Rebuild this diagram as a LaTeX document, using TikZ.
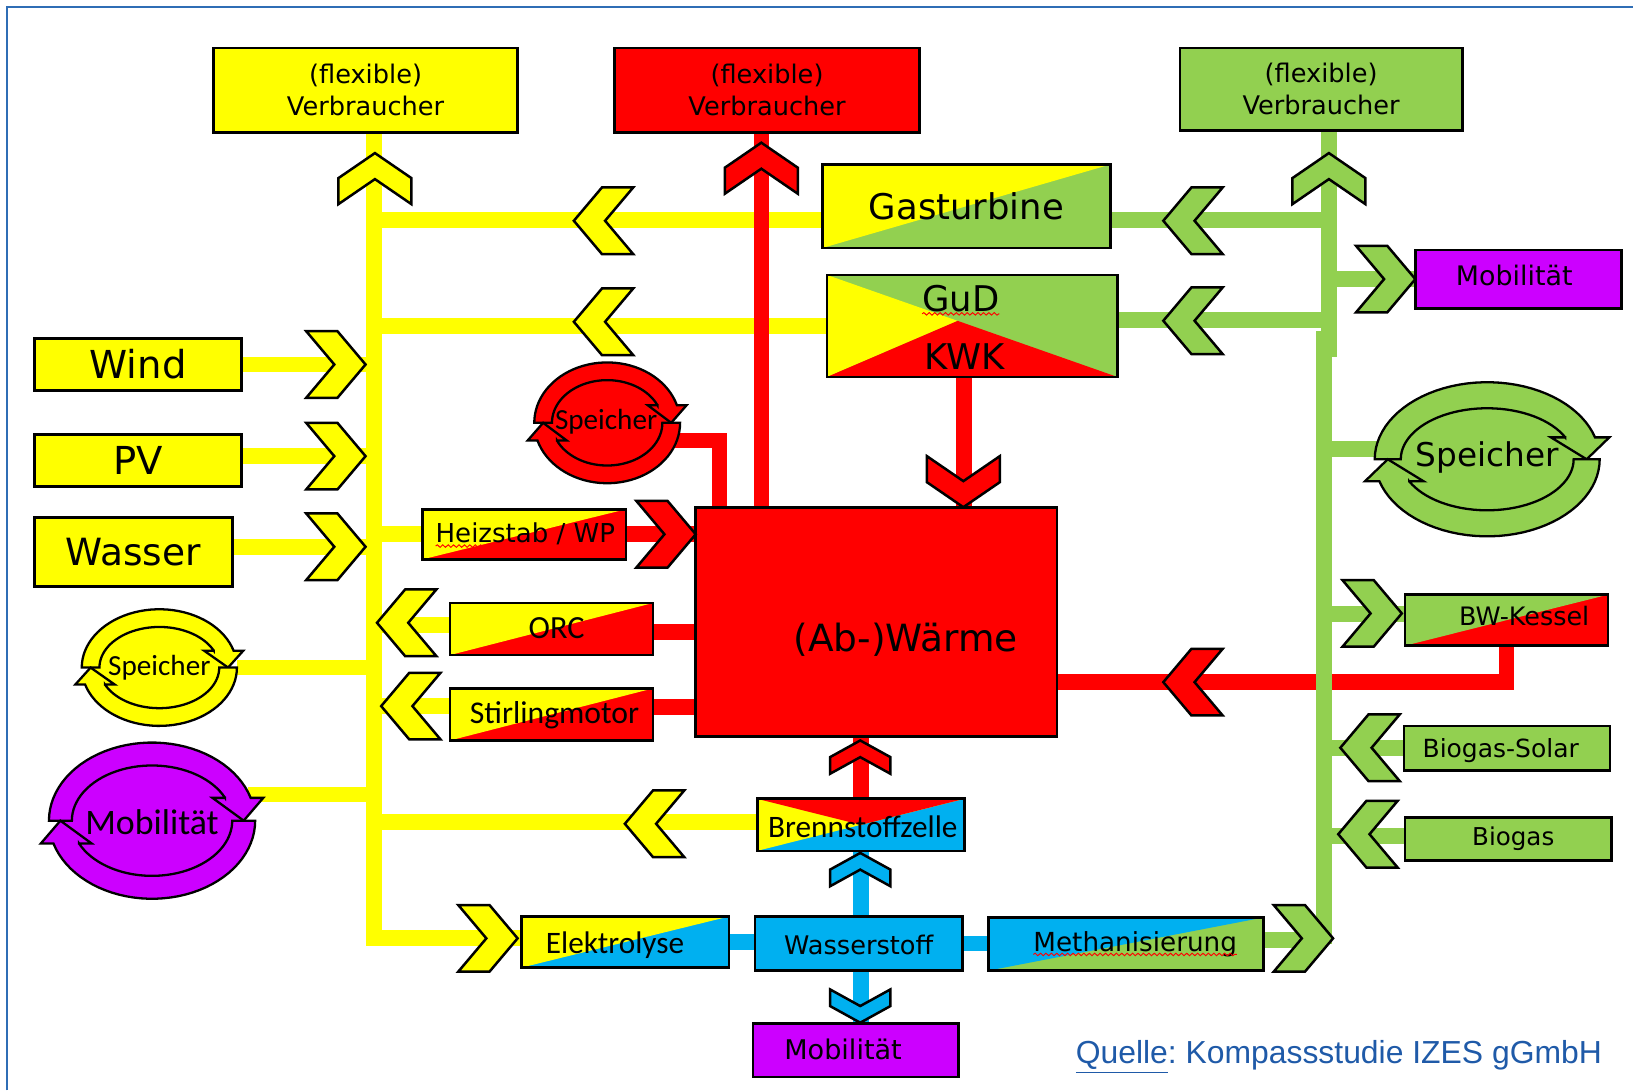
\documentclass[tikz,border=0pt]{standalone}
\usepackage{fontspec}
\setmainfont{DejaVu Sans}
\newfontfamily\calfont{Carlito}
\newfontfamily\arialfont{Liberation Sans}
\usetikzlibrary{calc,fit,decorations.pathmorphing}
\pgfdeclarelayer{bg}
\pgfsetlayers{bg,main}
\definecolor{cY}{HTML}{FFFF00}
\definecolor{cR}{HTML}{FF0000}
\definecolor{cG}{HTML}{92D050}
\definecolor{cB}{HTML}{00B0F0}
\definecolor{cP}{HTML}{CC00FF}
\definecolor{frameblue}{HTML}{2F6DB5}
\definecolor{srcblue}{HTML}{1F5AA8}
\tikzset{
  box/.style={draw=black, line width=1.3pt, inner sep=0pt, outer sep=0pt},
  split/.style 2 args={fill=#2, path picture={\fill[#1] (path picture bounding box.north west) -- (path picture bounding box.north east) -- (path picture bounding box.south west) -- cycle;}},
  txt/.style={inner sep=0pt, outer sep=0pt},
  flow/.style={line width=7.5pt},
  yl/.style={flow, draw=cY},
  rl/.style={flow, draw=cR},
  gl/.style={flow, draw=cG},
  bl/.style={flow, draw=cB},
  chevstyle/.style={draw=black, line width=1.2pt, line join=miter},
  ringstyle/.style={draw=black, line width=1.1pt, line join=miter},
  squiggle/.style={draw=cR, line width=0.45pt, decorate, decoration={snake, amplitude=0.6pt, segment length=2.6pt}},
}
\newcommand{\chevshape}[7]{%
  \begin{scope}[shift={(#1,#2)}, rotate=#3]
    \filldraw[fill=#4, chevstyle] (0,0) -- (-#6,-#5) -- (-#7,-#5) -- ({-#7+#6},0) -- (-#7,#5) -- (-#6,#5) -- cycle;
  \end{scope}}
\newcommand{\hchev}[4]{\chevshape{#1}{#2}{#3}{#4}{32}{27}{57}}
\newcommand{\vchev}[4]{\chevshape{#1}{#2}{#3}{#4}{35}{24}{49}}
\newcommand{\schev}[4]{\chevshape{#1}{#2}{#3}{#4}{29}{16}{32}}
\newcommand{\ringarrows}[6]{%
  \fill[#6] plot[domain=0:360, samples=72] ({#1+(#3-#5/2)*cos(\x)}, {#2+(#4-#5/2)*sin(\x)}) -- cycle;
  \foreach \sa/\ea/\ta/\bs/\sg in {180/340/360/360/1, 0/160/180/180/-1}{
    \pgfmathsetmacro\yb{(#4-#5/2)*sin(\ea)}
    \pgfmathsetmacro\tho{\bs+\sg*asin(\yb/#4)}
    \pgfmathsetmacro\thi{\bs+\sg*asin(\yb/(#4-#5))}
    \pgfmathsetmacro\xout{#1+#3*cos(\tho)}
    \pgfmathsetmacro\xin{#1+(#3-#5)*cos(\thi)}
    \pgfmathsetmacro\ee{0.55*#5}
    \filldraw[fill=#6, ringstyle]
      plot[domain=\sa:\tho, samples=40] ({#1+#3*cos(\x)}, {#2+#4*sin(\x)})
      -- ({\xout+\sg*\ee}, {#2+\yb})
      -- ({#1+(#3-#5/2)*cos(\ta)}, {#2})
      -- ({\xin-\sg*\ee}, {#2+\yb})
      -- ({\xin}, {#2+\yb})
      -- plot[domain=\thi:\sa, samples=40] ({#1+(#3-#5)*cos(\x)}, {#2+(#4-#5)*sin(\x)})
      -- cycle;
  }}
\begin{document}
\begin{tikzpicture}[x=0.5pt, y=-0.5pt]
\useasboundingbox (0,0) rectangle (1568,1047);
\draw[frameblue, line width=1.1pt] (7,1047) -- (7,7) -- (1568,7);

% consumers
\node[box, fill=cY, fit={(205,46) (497,127)}] (yv) {};
\node[box, fill=cR, fit={(590,46) (883,127)}] (rv) {};
\node[box, fill=cG, fit={(1133,46) (1404,125)}] (gv) {};
\node[txt, align=center, font=\fontsize{12.3}{15.5}\selectfont] (yvt) at (yv.center) {(flexible)\\Verbraucher};
\node[txt, align=center, font=\fontsize{12.3}{15.5}\selectfont] (rvt) at (rv.center) {(flexible)\\Verbraucher};
\node[txt, align=center, font=\fontsize{12.3}{15.5}\selectfont] (gvt) at (gv.center) {(flexible)\\Verbraucher};

% sources
\node[box, fill=cY, fit={(33,325) (232,375)}] (wind) {};
\node[box, fill=cY, fit={(33,417) (232,467)}] (pv) {};
\node[box, fill=cY, fit={(33,497) (223,563)}] (wasser) {};
\node[txt, font=\fontsize{18.5}{20}\selectfont] (windt) at (wind.center) {Wind};
\node[txt, font=\fontsize{18.5}{20}\selectfont] (pvt) at (pv.center) {PV};
\node[txt, font=\fontsize{18}{20}\selectfont] (wassert) at (wasser.center) {Wasser};

% converters
\node[box, split={cY}{cG}, fit={(790,158) (1066,238)}] (gas) {};
\node[txt, font=\fontsize{17}{20}\selectfont] (gast) at (gas.center) {Gasturbine};
\node[box, fill=cG, fit={(794,264) (1073,362)}, path picture={
   \coordinate (gP) at ($(path picture bounding box.north west)!0.45!(path picture bounding box.south east)$);
   \fill[cY] (path picture bounding box.north west) -- (gP) -- (path picture bounding box.south west) -- cycle;
   \fill[cR] (path picture bounding box.south west) -- (gP) -- (path picture bounding box.south east) -- cycle;}] (gud) {};
\node[txt, font=\fontsize{17}{20}\selectfont] (gudt) at ($(gud.center)+(-11,-26)$) {GuD};
\node[txt, font=\fontsize{17}{20}\selectfont] (kwkt) at ($(gud.center)+(-7,29)$) {KWK};
\node[box, split={cY}{cR}, fit={(406,489) (601,537)}] (heiz) {};
\node[txt, font=\fontsize{12.5}{15}\selectfont] (heizt) at ($(heiz.center)+(1,0)$) {Heizstab / WP};
\node[box, split={cY}{cR}, fit={(432,579) (627,629)}] (orc) {};
\node[txt, font=\calfont\fontsize{15.5}{18}\selectfont] (orct) at ($(orc.center)+(5,-1)$) {ORC};
\node[box, split={cY}{cR}, fit={(432,661) (627,711)}] (stir) {};
\node[txt, font=\calfont\fontsize{15.2}{18}\selectfont] (stirt) at ($(stir.center)+(3,1)$) {Stirlingmotor};
\node[box, fill=cR, fit={(668,487) (1015,707)}] (waerme) {};
\node[txt, font=\fontsize{18}{20}\selectfont] (waermet) at ($(waerme.center)+(28,17)$) {(Ab-)Wärme};
\node[box, fill=cB, fit={(727,767) (926,817)}, path picture={
   \fill[cY] (path picture bounding box.north west) -- (path picture bounding box.north east) -- (path picture bounding box.south west) -- cycle;
   \fill[cR] (path picture bounding box.north west) -- (path picture bounding box.north east) -- (path picture bounding box.center) -- cycle;}] (bz) {};
\node[txt, font=\calfont\fontsize{15}{18}\selectfont] (bzt) at ($(bz.center)+(2,2)$) {Brennstoffzelle};
\node[box, split={cY}{cB}, fit={(501,880) (700,929)}] (elek) {};
\node[txt, font=\calfont\fontsize{15}{18}\selectfont] (elekt) at ($(elek.center)+(-10,3)$) {Elektrolyse};
\node[box, fill=cB, fit={(725,880) (924,932)}] (ws) {};
\node[txt, font=\fontsize{12.3}{15}\selectfont] (wst) at ($(ws.center)+(0,1)$) {Wasserstoff};
\node[box, split={cB}{cG}, fit={(949,881) (1213,932)}] (meth) {};
\node[txt, font=\fontsize{12.6}{15}\selectfont] (metht) at ($(meth.center)+(9,0)$) {Methanisierung};
\node[box, fill=cP, fit={(723,983) (920,1034)}] (mobb) {};
\node[txt, font=\fontsize{13}{15}\selectfont] (mobbt) at ($(mobb.center)+(-12,-1)$) {Mobilität};
\node[box, fill=cP, fit={(1359,240) (1557,296)}] (mobr) {};
\node[txt, font=\fontsize{12.9}{15}\selectfont] (mobrt) at ($(mobr.center)+(-4,-3)$) {Mobilität};
\node[box, split={cG}{cR}, fit={(1349,571) (1544,620)}] (bw) {};
\node[txt, font=\fontsize{12.2}{15}\selectfont] (bwt) at ($(bw.center)+(17,-4)$) {BW-Kessel};
\node[box, fill=cG, fit={(1348,697) (1546,740)}] (bsol) {};
\node[txt, font=\fontsize{12}{15}\selectfont] (bsolt) at ($(bsol.center)+(-6,2)$) {Biogas-Solar};
\node[box, fill=cG, fit={(1349,785) (1547,826)}] (bgas) {};
\node[txt, font=\fontsize{11.8}{15}\selectfont] (bgast) at ($(bgas.center)+(5,0)$) {Biogas};

% storage rings
\ringarrows{153}{641}{74.5}{56}{17}{cY}
\node[txt, minimum width=74.5pt, minimum height=56pt, font=\calfont\fontsize{14}{16}\selectfont] (yspe) at (153,641) {Speicher};
\ringarrows{583}{406}{70}{58}{17}{cR}
\node[txt, minimum width=70pt, minimum height=58pt, font=\calfont\fontsize{14}{16}\selectfont] (rspe) at (582,405) {Speicher};
\ringarrows{1428}{441}{108}{74}{25}{cG}
\node[txt, minimum width=108pt, minimum height=74pt, font=\fontsize{15.7}{18}\selectfont] (gspe) at (1428,439) {Speicher};
\ringarrows{146}{788}{99}{75}{22}{cP}
\node[txt, minimum width=99pt, minimum height=75pt, font=\calfont\fontsize{17.2}{20}\selectfont] (pspe) at (146,789) {Mobilität};

% source note
\node[txt, anchor=base west, text=srcblue, font=\arialfont\fontsize{15.3}{18}\selectfont] (src) at (1033,1021) {\underline{Quelle}:~Kompassstudie IZES gGmbH};

% spell-check marks
\draw[squiggle] ($(gudt.base west)+(0,2)$) -- ($(gudt.base east)+(0,2)$);
\draw[squiggle] ($(heizt.base west)+(0,3)$) -- ($(heizt.base west)+(89,3)$);
\draw[squiggle] ($(metht.base west)+(0,3)$) -- ($(metht.base east)+(0,3)$);

% chevrons: yellow
\vchev{360}{147}{90}{cY}
\hchev{551}{212}{180}{cY}
\hchev{551}{309}{180}{cY}
\hchev{351}{350}{0}{cY}
\hchev{351}{438}{0}{cY}
\hchev{351}{525}{0}{cY}
\hchev{362}{598}{180}{cY}
\hchev{366}{678}{180}{cY}
\hchev{600}{791}{180}{cY}
\hchev{497}{901}{0}{cY}
% red
\vchev{731}{137}{90}{cR}
\vchev{925}{487}{-90}{cR}
\hchev{668}{513}{0}{cR}
\hchev{1117}{655}{180}{cR}
\schev{826}{711}{90}{cR}
% blue
\schev{826}{819}{90}{cB}
\schev{826}{982}{-90}{cB}
% green
\vchev{1276}{147}{90}{cG}
\hchev{1117}{212}{180}{cG}
\hchev{1117}{308}{180}{cG}
\hchev{1359}{268}{0}{cG}
\hchev{1346}{589}{0}{cG}
\hchev{1287}{718}{180}{cG}
\hchev{1285}{801}{180}{cG}
\hchev{1280}{901}{0}{cG}

% connectors
\begin{pgfonlayer}{bg}
\coordinate (ybus) at (359,0);
\coordinate (gbusU) at (1276,0);
\coordinate (gbusL) at (1271,0);
\coordinate (gUend) at (1276,343);
\coordinate (gLstart) at (1271,318);
\coordinate (gLend) at (1271,906);
% yellow
\coordinate (elekin) at ($(elek.west)+(0,-4)$);
\draw[yl] (yv.south -| ybus) -- (ybus |- elekin) -- (elekin);
\draw[yl] (wind.east) -- (wind.east -| ybus);
\coordinate (pvout) at ($(pv.east)+(0,-4)$);
\draw[yl] (pvout) -- (pvout -| ybus);
\coordinate (waout) at ($(wasser.east)+(0,-5)$);
\draw[yl] (waout) -- (waout -| ybus);
\draw[yl] (heiz.west -| ybus) -- (heiz.west);
\coordinate (orcin) at ($(orc.west)+(0,-4)$);
\draw[yl] (orcin -| ybus) -- (orcin);
\coordinate (stirin) at ($(stir.west)+(0,-8)$);
\draw[yl] (stirin -| ybus) -- (stirin);
\draw[yl] (yspe.east) -- (yspe.east -| ybus);
\coordinate (pspeout) at ($(pspe.center)+(92,-26)$);
\draw[yl] (pspeout) -- (pspeout -| ybus);
\coordinate (bzin) at ($(bz.west)+(0,-3)$);
\draw[yl] (bzin -| ybus) -- (bzin);
\coordinate (gasinY) at ($(gas.west)+(0,13)$);
\draw[yl] (gasinY -| ybus) -- (gasinY);
\draw[yl] (gud.west -| ybus) -- (gud.west);
% red
\coordinate (rspeout) at ($(rspe.center)+(60,18)$);
\coordinate (rspedown) at ($(waerme.north west)+(23,0)$);
\draw[rl] (rspeout) -| (rspedown);
\draw[rl] (heiz.east) -- (heiz.east -| waerme.west);
\coordinate (orcout) at ($(orc.east)+(0,3)$);
\draw[rl] (orcout) -- (orcout -| waerme.west);
\coordinate (stirout) at ($(stir.east)+(0,-7)$);
\draw[rl] (stirout) -- (stirout -| waerme.west);
\coordinate (bwret) at ($(waerme.south east)+(0,-52)$);
\draw[rl] (bw.south) |- (bwret);
\coordinate (kwkout) at ($(gud.south)+(-8,0)$);
\draw[rl] (kwkout) -- (kwkout |- waerme.north);
\draw[rl] (bz.north) -- (bz.north |- waerme.south);
\coordinate (rvup) at ($(waerme.north west)+(63,0)$);
\draw[rl] (rvup) -- (rvup |- rv.south);
% blue
\draw[bl] (elek.east) -- (elek.east -| ws.west);
\draw[bl] (ws.east) -- (ws.east -| meth.west);
\coordinate (wsup) at ($(ws.north)+(2,0)$);
\draw[bl] (wsup) -- (wsup |- bz.south);
\coordinate (wsdown) at ($(ws.south)+(2,0)$);
\draw[bl] (wsdown) -- (wsdown |- mobb.north);
% green
\draw[gl] (gv.south -| gbusU) -- (gUend);
\draw[gl] (gLstart) -- (gLend);
\coordinate (gasinG) at ($(gas.east)+(0,13)$);
\draw[gl] (gasinG) -- (gasinG -| gbusU);
\coordinate (gudinG) at ($(gud.east)+(0,-6)$);
\draw[gl] (gudinG) -- (gudinG -| gbusU);
\draw[gl] (mobr.west -| gbusU) -- (mobr.west);
\coordinate (gspein) at ($(gspe.center)+(-100,-8)$);
\draw[gl] (gspein -| gbusL) -- (gspein);
\coordinate (bwin) at ($(bw.west)+(0,-6)$);
\draw[gl] (bwin -| gbusL) -- (bwin);
\draw[gl] (bsol.west -| gbusL) -- (bsol.west);
\coordinate (bgin) at ($(bgas.west)+(0,-3)$);
\draw[gl] (bgin -| gbusL) -- (bgin);
\coordinate (methout) at ($(meth.east)+(0,-4)$);
\draw[gl] (methout) -- (methout -| gbusL);
\end{pgfonlayer}
\end{tikzpicture}
\end{document}
